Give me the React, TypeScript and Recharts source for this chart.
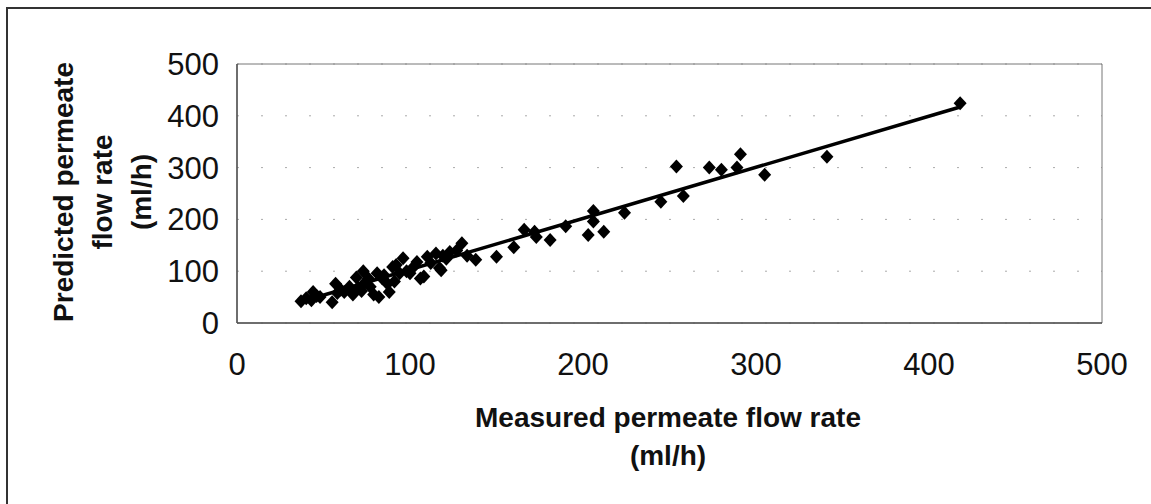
import React from "react";
import {
  ScatterChart,
  Scatter,
  XAxis,
  YAxis,
  CartesianGrid,
  ReferenceArea,
} from "recharts";

// measured vs predicted permeate flow rate (ml/h)
const measured = [
  37, 40, 43, 44, 46, 48, 55, 57, 58, 60, 62, 65, 67, 69, 70, 72, 73, 74, 76, 77,
  79, 81, 82, 84, 85, 87, 88, 90, 91, 92, 94, 96, 98, 100, 102, 104, 106, 108, 110, 112,
  115, 117, 118, 119, 121, 123, 127, 130, 133, 138, 150, 160, 166, 172, 173, 181, 190, 203, 206, 206,
  212, 224, 245, 254, 258, 273, 280, 289, 291, 305, 341, 418,
];
const predicted = [
  42, 48, 44, 60, 52, 50, 40, 76, 58, 64, 60, 70, 55, 88, 68, 62, 100, 78, 86, 70,
  55, 96, 50, 86, 92, 76, 60, 108, 80, 112, 96, 125, 100, 96, 108, 118, 86, 90, 128, 116,
  134, 106, 102, 130, 124, 137, 140, 154, 130, 122, 128, 146, 180, 176, 166, 160, 187, 170, 216, 196,
  176, 213, 234, 302, 245, 300, 296, 300, 326, 286, 321, 424,
];

// fitted line end points
const trendX = [40, 418];
const trendY = [44, 417];

const axisTicks = [0, 100, 200, 300, 400, 500];

const points = measured.map((x, i) => ({ x, y: predicted[i] }));
const trend = trendX.map((x, i) => ({ x, y: trendY[i] }));

const Diamond = (props: any) => {
  const { cx, cy } = props;
  const rx = 6.5;
  const ry = 7;
  return (
    <polygon
      points={`${cx},${cy - ry} ${cx + rx},${cy} ${cx},${cy + ry} ${cx - rx},${cy}`}
      fill="#000"
    />
  );
};

const font = "'Liberation Sans', Arial, sans-serif";

const YTitle = () => (
  <text
    transform="translate(112,192) rotate(-90)"
    textAnchor="middle"
    fontFamily={font}
    fontWeight="bold"
    fontSize={28}
    fill="#111"
  >
    <tspan x={0} dy={-39}>Predicted permeate</tspan>
    <tspan x={0} dy={39}>flow rate</tspan>
    <tspan x={0} dy={39}>(ml/h)</tspan>
  </text>
);

const XTitle = () => (
  <text textAnchor="middle" fontFamily={font} fontWeight="bold" fontSize={28} fill="#111">
    <tspan x={668} y={427}>Measured permeate flow rate</tspan>
    <tspan x={668} y={465}>(ml/h)</tspan>
  </text>
);

export default function App() {
  return (
    <div
      style={{
        position: "absolute",
        left: 0,
        top: 0,
        width: 1151,
        height: 504,
        background: "#fff",
      }}
    >
      <div
        style={{
          position: "absolute",
          left: 6,
          top: 7,
          right: 0,
          bottom: 0,
          borderLeft: "2px solid #333",
          borderTop: "2px solid #333",
        }}
      />
      <ScatterChart
        width={1151}
        height={504}
        margin={{ top: 64, right: 49, bottom: 0, left: 0 }}
        style={{ position: "absolute", left: 0, top: 0 }}
      >
        <CartesianGrid
          vertical={false}
          stroke="#aaa"
          strokeDasharray="2 22"
        />
        <XAxis
          type="number"
          dataKey="x"
          domain={[0, 500]}
          ticks={axisTicks}
          height={181}
          tickLine={false}
          tickSize={0}
          tickMargin={30}
          axisLine={{ stroke: "#555", strokeWidth: 1.5 }}
          tick={{ fill: "#111", fontSize: 31, fontFamily: font }}
          label={{ content: () => <XTitle /> }}
        />
        <YAxis
          type="number"
          dataKey="y"
          domain={[0, 500]}
          ticks={axisTicks}
          width={237}
          tickLine={false}
          tickSize={0}
          tickMargin={18}
          axisLine={{ stroke: "#555", strokeWidth: 1.5 }}
          tick={{ fill: "#111", fontSize: 31, fontFamily: font }}
          label={{ content: () => <YTitle /> }}
        />
        <ReferenceArea
          x1={0}
          x2={500}
          y1={0}
          y2={500}
          fill="none"
          stroke="#777"
          strokeWidth={1}
          ifOverflow="visible"
        />
        <Scatter
          data={points}
          shape={<Diamond />}
          isAnimationActive={false}
        />
        <Scatter
          data={trend}
          line={{ stroke: "#000", strokeWidth: 3.5 }}
          shape={() => <g />}
          isAnimationActive={false}
        />
      </ScatterChart>
    </div>
  );
}
